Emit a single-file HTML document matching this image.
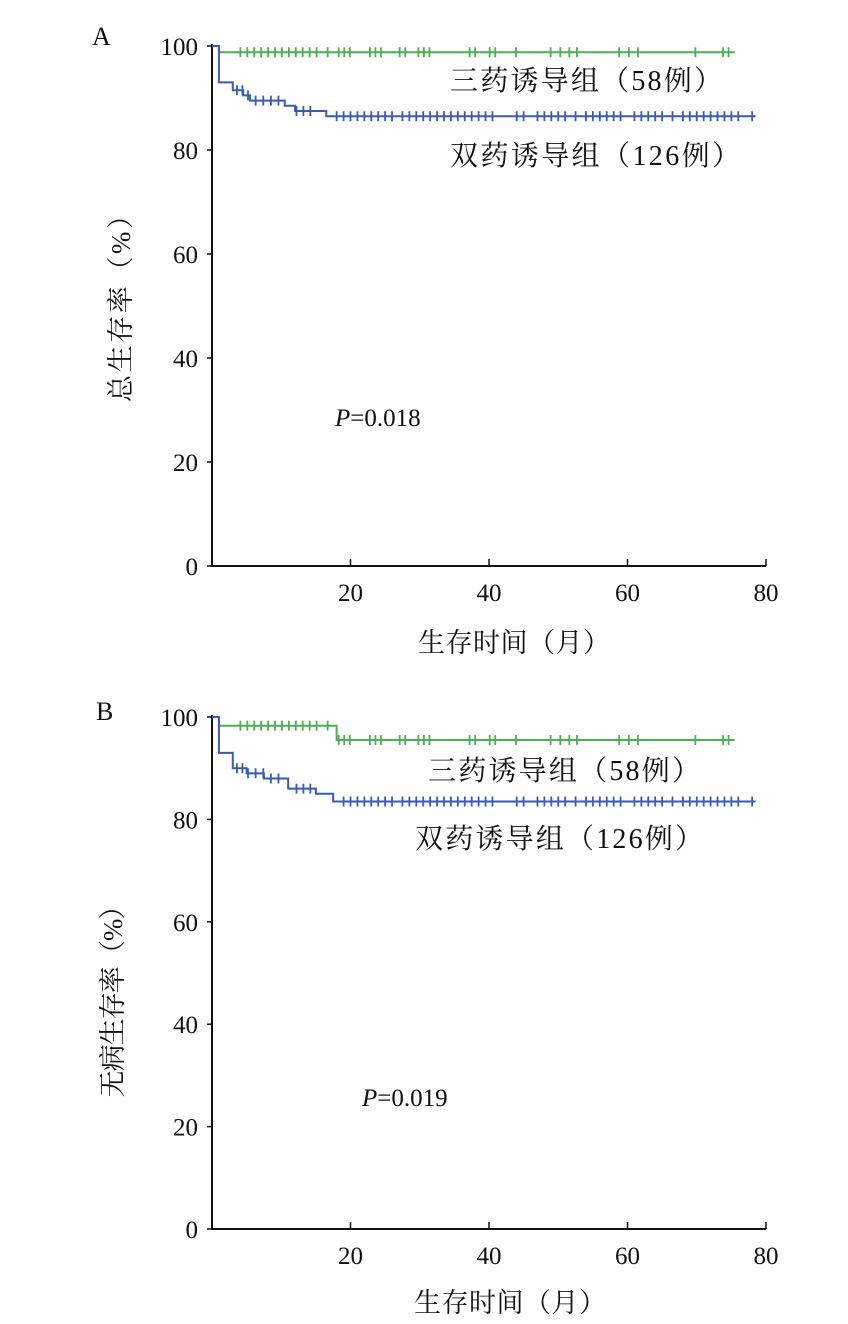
<!DOCTYPE html>
<html><head><meta charset="utf-8"><style>
html,body{margin:0;padding:0;background:#fff;}
svg{display:block;font-family:"Liberation Serif","Noto Serif CJK SC","Noto Sans CJK SC",serif;}
</style></head><body>
<svg id="chart" width="848" height="1324" viewBox="0 0 848 1324" xmlns="http://www.w3.org/2000/svg">
<rect width="848" height="1324" fill="#fff"/>
</svg>
<script>
const xTicks = [20, 40, 60, 80];
const yTicks = [0, 20, 40, 60, 80, 100];
// Panel A (overall survival)
const aTripleSteps = [[0,100],[1,98.8]];
const aDoubleSteps = [[0,100],[1,93],[3,91.5],[4.5,90.5],[5.5,89.5],[10.5,88.5],[12,87.5],[16.5,86.5]];
const aTripleCens = [4.1,5.1,6.1,7.1,8.1,9.1,10.1,11.1,12.1,13.1,14.1,15.1,16.7,18.3,19.1,19.9,22.8,23.6,24.4,27.1,27.9,29.8,30.6,31.4,37.2,38.0,40.1,40.9,43.9,48.9,50.3,51.6,52.7,58.8,60.2,61.5,69.8,73.8,74.6];
const aDoubleCens = [3.6,4.4,5.2,6.3,7.4,8.5,9.6,12.2,13.2,14.2,18,19,20,21,22,23,24,25,26,27.5,28.5,29.5,30.5,31.5,32.5,33.5,34.5,35.5,36.5,37.5,38.5,39.5,40.5,44,45,47,48,49,50,51,52.5,54,55,56,57,58,59,61,62,63,64,65,66.5,68,69,70,71,72,73,74,75,76,78];
// Panel B (disease-free survival)
const bTripleSteps = [[0,100],[1,98.3],[18,95.5]];
const bDoubleSteps = [[0,100],[1,93],[3,90],[5,89],[7.5,88],[11,86],[15,85],[17.5,83.5]];
const bTripleCens = aTripleCens;
const bDoubleCens = [3.6,4.4,5.2,6.3,7.4,8.5,9.6,12.2,13.2,14.2,19,20,21,22,23,24,25,26,27.5,28.5,29.5,30.5,31.5,32.5,33.5,34.5,35.5,36.5,37.5,38.5,39.5,40.5,44,45,47,48,49,50,51,52.5,54,55,56,57,58,59,61,62,63,64,65,66.5,68,69,70,71,72,73,74,75,76,78];
const tEndTriple = 75.5, tEndDouble = 78.5;

const NS = "http://www.w3.org/2000/svg";
const svg = document.getElementById('chart');
function mk(tag, attrs, parent) {
  const e = document.createElementNS(NS, tag);
  for (const k in attrs) e.setAttribute(k, attrs[k]);
  (parent || svg).appendChild(e);
  return e;
}
function txt(s, x, y, size, anchor, parent, extra) {
  const t = mk('text', Object.assign({x: x, y: y, 'font-size': size, 'text-anchor': anchor || 'start', fill: '#111'}, extra || {}), parent);
  t.textContent = s;
  return t;
}

function panel(cfg) {
  const g = mk('g', {});
  
  
  const X = v => cfg.x0 + v * (cfg.x80 - cfg.x0) / 80;
  const Y = v => cfg.y0 - v * (cfg.y0 - cfg.y100) / 100;
  const ax = mk('path', {d: `M${X(0)} ${Y(100)-2} V${Y(0)} H${X(80)}`, stroke: '#111', 'stroke-width': 2, fill: 'none'}, g);
  
  
  xTicks.forEach(v => {
    const l = mk('line', {x1: X(v), x2: X(v), y1: Y(0), y2: Y(0) - 7, stroke: '#111', 'stroke-width': 1.5}, g);
    
    
    const t = txt(String(v), X(v), Y(0) + 35, 25, 'middle', g);
    
    
  });
  yTicks.forEach(v => {
    const l = mk('line', {x1: X(0), x2: X(0) - 5, y1: Y(v), y2: Y(v), stroke: '#111', 'stroke-width': 1.5}, g);
    
    
    const t = txt(String(v), X(0) - 14, Y(v) + 9, 25, 'end', g);
    
    
  });
  function series(steps, cens, tEnd, color, name) {
    let d = `M${X(steps[0][0])} ${Y(steps[0][1])}`;
    for (let i = 1; i < steps.length; i++) {
      d += ` H${X(steps[i][0])} V${Y(steps[i][1])}`;
    }
    d += ` H${X(tEnd)}`;
    const p = mk('path', {d: d, stroke: color, 'stroke-width': 2, fill: 'none'}, g);
    
    
    cens.forEach(t => {
      let s = steps[0][1];
      steps.forEach(st => { if (st[0] <= t) s = st[1]; });
      const c = mk('line', {x1: X(t), x2: X(t), y1: Y(s) - 5, y2: Y(s) + 5, stroke: color, 'stroke-width': 1.8}, g);
      
      
    });
  }
  series(cfg.tri, cfg.triC, tEndTriple, '#4caf50', 'triple-induction');
  series(cfg.dbl, cfg.dblC, tEndDouble, '#3a5bb5', 'double-induction');
  let t;
  t = txt(cfg.letter, cfg.letterX, cfg.letterY, 26, 'start', g);
  
  
  t = txt('三药诱导组（58例）', cfg.l1x, cfg.l1y, 28, 'start', g, {textLength: cfg.l1w, lengthAdjust: 'spacing'});
  
  
  t = txt('双药诱导组（126例）', cfg.l2x, cfg.l2y, 28, 'start', g, {textLength: cfg.l2w, lengthAdjust: 'spacing'});
  
  
  t = mk('text', {x: cfg.px, y: cfg.py, 'font-size': 25, fill: '#111'}, g);
  t.innerHTML = '<tspan font-style="italic">P</tspan>=' + cfg.p;
  
  
  t = txt('生存时间（月）', cfg.xtx, cfg.xty, 27, 'middle', g, {textLength: 192, lengthAdjust: 'spacing'});
  
  
  t = txt(cfg.ytitle, 0, 0, 27, 'middle', g, {transform: `translate(${cfg.ytx},${cfg.yty}) rotate(-90)`, textLength: cfg.ytw, lengthAdjust: 'spacing'});
  
  
}

panel({name: 'panel-a-overall-survival', x0: 212, x80: 766, y0: 566, y100: 46,
  tri: aTripleSteps, triC: aTripleCens, dbl: aDoubleSteps, dblC: aDoubleCens,
  letter: 'A', letterX: 92, letterY: 45, l1x: 450, l1y: 90, l1w: 272, l2x: 450, l2y: 165, l2w: 290,
  px: 335, py: 426, p: '0.018', xtx: 514, xty: 652, ytitle: '总生存率（%）', ytx: 130, yty: 302, ytw: 200});
panel({name: 'panel-b-disease-free-survival', x0: 212, x80: 766, y0: 1229, y100: 717,
  tri: bTripleSteps, triC: bTripleCens, dbl: bDoubleSteps, dblC: bDoubleCens,
  letter: 'B', letterX: 96, letterY: 720, l1x: 428, l1y: 780, l1w: 272, l2x: 415, l2y: 848, l2w: 288,
  px: 362, py: 1106, p: '0.019', xtx: 510, xty: 1312, ytitle: '无病生存率（%）', ytx: 122, yty: 995, ytw: 205});
</script>
</body></html>
